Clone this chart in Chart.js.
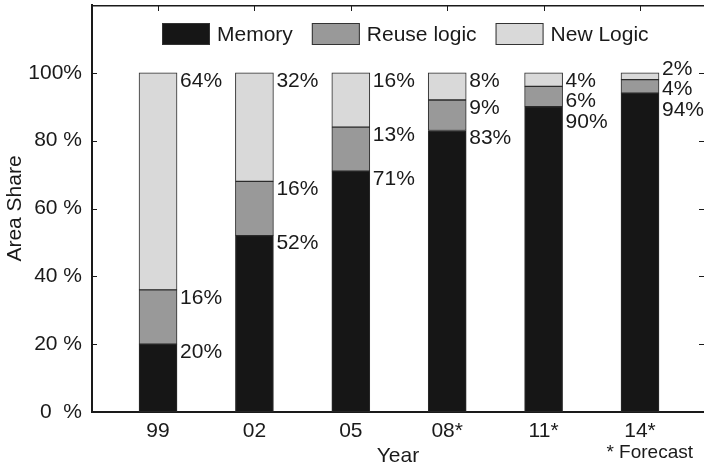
<!DOCTYPE html>
<html>
<head>
<meta charset="utf-8">
<script src="https://cdn.jsdelivr.net/npm/chart.js@4.4.0/dist/chart.umd.min.js"></script>
<style>
  html, body { margin: 0; padding: 0; background: #fff; }
</style>
</head>
<body>
<canvas id="area-chart" width="704" height="466"></canvas>
<script>
// Data
const years = ["99", "02", "05", "08*", "11*", "14*"];
const memory = [20, 52, 71, 83, 90, 94];
const reuseLogic = [16, 16, 13, 9, 6, 4];
const newLogic = [64, 32, 16, 8, 4, 2];
const yTicks = [0, 20, 40, 60, 80, 100];

const INK = "#1a1a1a";
const FONT = "'Liberation Sans', Arial, Helvetica, sans-serif";

Chart.defaults.font.family = FONT;
Chart.defaults.font.size = 21;
Chart.defaults.color = INK;

function points(values) {
  return values.map((v, i) => ({ x: i + 1, y: v }));
}

function tickLabel(v) {
  if (v === 0) return "0  %";
  if (v === 100) return "100%";
  return v + " %";
}

// keep the scale from reserving room for half labels
function noEdgePadding(s) {
  s.paddingTop = 0;
  s.paddingBottom = 0;
  s.paddingLeft = 0;
  s.paddingRight = 0;
}

// Frame, inward ticks, legend, value labels and footnote
const decorations = {
  id: "decorations",
  afterDraw(chart) {
    const { ctx, chartArea: a, scales } = chart;
    ctx.save();
    ctx.strokeStyle = INK;

    // top frame line
    ctx.lineWidth = 1.6;
    ctx.beginPath();
    ctx.moveTo(a.left, a.top + 0.8);
    ctx.lineTo(a.right, a.top + 0.8);
    ctx.stroke();

    // inward tick marks
    ctx.lineWidth = 1;
    ctx.beginPath();
    years.forEach((_, i) => {
      const x = Math.round(scales.x.getPixelForValue(i + 1)) + 0.5;
      ctx.moveTo(x, a.top);
      ctx.lineTo(x, a.top + 6);
    });
    yTicks.slice(1).forEach(v => {
      const y = Math.round(scales.y.getPixelForValue(v)) + 0.5;
      ctx.moveTo(a.left, y);
      ctx.lineTo(a.left + 5, y);
      ctx.moveTo(a.right - 5, y);
      ctx.lineTo(a.right, y);
    });
    ctx.stroke();

    // legend inside the plot
    ctx.font = "21px " + FONT;
    ctx.textBaseline = "middle";
    ctx.textAlign = "left";
    let lx = a.left + 70;
    const ly = 23;
    chart.data.datasets.forEach(ds => {
      ctx.fillStyle = ds.backgroundColor;
      ctx.fillRect(lx, ly, 48, 22);
      ctx.strokeStyle = "#333";
      ctx.strokeRect(lx + 0.5, ly + 0.5, 47, 21);
      ctx.fillStyle = INK;
      ctx.fillText(ds.label, lx + 55, ly + 12);
      lx += 55 + ctx.measureText(ds.label).width + 19;
    });

    // percentage labels to the right of each segment
    const metas = chart.data.datasets.map((_, d) => chart.getDatasetMeta(d));
    years.forEach((_, i) => {
      const items = metas.map((m, d) => {
        const bar = m.data[i];
        return {
          text: chart.data.datasets[d].data[i].y + "%",
          x: bar.x + bar.width / 2 + 3,
          want: bar.y + 8
        };
      }).sort((p, q) => p.want - q.want);
      const gap = 20.5;
      items.forEach((it, k) => {
        it.y = k === 0 ? it.want : Math.max(it.want, items[k - 1].y + gap);
      });
      const last = items[items.length - 1];
      const push = last.y - last.want;
      if (push > 10) items.forEach(it => { it.y -= push - 9; });
      ctx.fillStyle = INK;
      items.forEach(it => ctx.fillText(it.text, it.x, it.y));
    });

    // footnote
    ctx.font = "19px " + FONT;
    ctx.textAlign = "right";
    ctx.fillText("* Forecast", 693, 453);
    ctx.restore();
  }
};

new Chart(document.getElementById("area-chart"), {
  type: "bar",
  data: {
    datasets: [
      { label: "Memory", data: points(memory), backgroundColor: "#161616" },
      { label: "Reuse logic", data: points(reuseLogic), backgroundColor: "#999999" },
      { label: "New Logic", data: points(newLogic), backgroundColor: "#d9d9d9" }
    ]
  },
  options: {
    responsive: false,
    animation: false,
    devicePixelRatio: 1,
    layout: { padding: { top: 5, right: 0, bottom: 0, left: 0 } },
    datasets: {
      bar: {
        barThickness: 38,
        borderWidth: 1,
        borderColor: "#2b2b2b",
        borderSkipped: false
      }
    },
    plugins: {
      legend: { display: false },
      tooltip: { enabled: false }
    },
    scales: {
      x: {
        type: "linear",
        stacked: true,
        offset: false,
        min: 0.315,
        max: 6.664,
        afterBuildTicks: s => { s.ticks = years.map((_, i) => ({ value: i + 1 })); },
        afterFit: s => { s.height = 54; noEdgePadding(s); },
        grid: { display: false, drawTicks: false, offset: false },
        border: { display: true, color: INK, width: 2 },
        ticks: {
          padding: 7,
          autoSkip: false,
          maxRotation: 0,
          callback: v => years[v - 1] || ""
        },
        title: { display: true, text: "Year", padding: { top: 0, bottom: -3 } }
      },
      y: {
        stacked: true,
        min: 0,
        max: 120,
        afterBuildTicks: s => { s.ticks = yTicks.map(v => ({ value: v })); },
        afterFit: s => { s.width = 92; noEdgePadding(s); },
        grid: { display: false, drawTicks: false },
        border: { display: true, color: INK, width: 2 },
        ticks: { padding: 10, callback: tickLabel },
        title: { display: true, text: "Area Share", padding: { top: 3, bottom: 0 } }
      }
    }
  },
  plugins: [decorations]
});
</script>
</body>
</html>
